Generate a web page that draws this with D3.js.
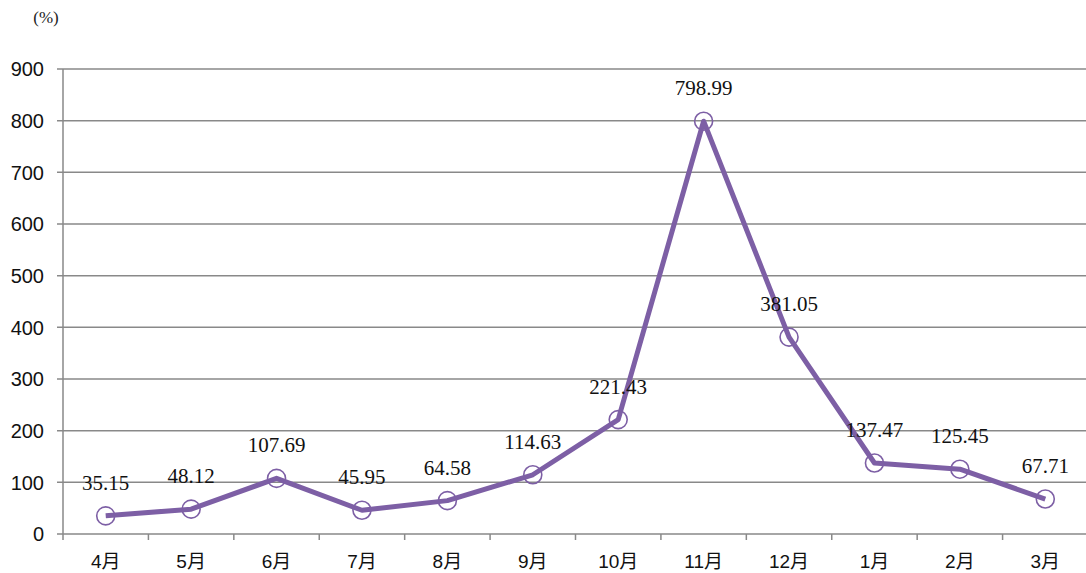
<!DOCTYPE html>
<html>
<head>
<meta charset="utf-8">
<script src="https://cdn.jsdelivr.net/npm/d3@7"></script>
<style>
  html, body { margin: 0; padding: 0; background: #fff; }
  svg { display: block; }
</style>
</head>
<body>
<svg id="chart" width="1086" height="573"></svg>
<script>
// Monthly ratio (%) by month
const months = ["4月", "5月", "6月", "7月", "8月", "9月", "10月", "11月", "12月", "1月", "2月", "3月"];
const values = [35.15, 48.12, 107.69, 45.95, 64.58, 114.63, 221.43, 798.99, 381.05, 137.47, 125.45, 67.71];
const yTicks = [0, 100, 200, 300, 400, 500, 600, 700, 800, 900];
const unitLabel = "(%)";

const svg = d3.select("#chart");
const margin = { left: 63, right: -2, top: 69, bottom: 39 };
const W = 1086, H = 573;

const x = d3.scaleBand().domain(months).range([margin.left, W - margin.right]);
const y = d3.scaleLinear().domain([0, 900]).range([H - margin.bottom, margin.top]);

const gridColor = "#898989";
const purple = "#7d5fa5";

// horizontal gridlines (with short left ticks)
svg.append("g").selectAll("line").data(yTicks).join("line")
  .attr("x1", margin.left - 6).attr("x2", W)
  .attr("y1", d => y(d)).attr("y2", d => y(d))
  .attr("stroke", gridColor).attr("stroke-width", 1.5);

// vertical axis line
svg.append("line")
  .attr("x1", margin.left).attr("x2", margin.left)
  .attr("y1", y(900)).attr("y2", y(0) + 6)
  .attr("stroke", gridColor).attr("stroke-width", 1.5);

// category separator ticks below the baseline
const bounds = months.slice(1).map(m => x(m));
svg.append("g").selectAll("line").data(bounds).join("line")
  .attr("x1", d => d).attr("x2", d => d)
  .attr("y1", y(0)).attr("y2", y(0) + 6)
  .attr("stroke", gridColor).attr("stroke-width", 1.5);

// y-axis tick labels
svg.append("g").selectAll("text").data(yTicks).join("text")
  .attr("x", 44).attr("y", d => y(d))
  .attr("dy", "0.36em")
  .attr("text-anchor", "end")
  .attr("font-family", "Liberation Sans, Arial, sans-serif")
  .attr("font-size", 20)
  .attr("fill", "#111")
  .text(d => d);

// unit label
svg.append("text")
  .attr("x", 46).attr("y", 23)
  .attr("text-anchor", "middle")
  .attr("font-family", "Liberation Serif, serif")
  .attr("font-size", 17)
  .attr("fill", "#222")
  .text(unitLabel);

// month labels
svg.append("g").selectAll("text").data(months).join("text")
  .attr("x", d => x(d) + x.bandwidth() / 2)
  .attr("y", 561).attr("dy", "0.36em")
  .attr("text-anchor", "middle")
  .attr("font-family", "Liberation Sans, 'Noto Sans CJK JP', sans-serif")
  .attr("font-size", 19)
  .attr("fill", "#111")
  .text(d => d);

const cx = (d, i) => x(months[i]) + x.bandwidth() / 2;

// series line
const line = d3.line().x((d, i) => cx(d, i)).y(d => y(d));
svg.append("path").datum(values)
  .attr("d", line)
  .attr("fill", "none")
  .attr("stroke", purple)
  .attr("stroke-width", 5)
  .attr("stroke-linejoin", "round");

// hollow circle markers
svg.append("g").selectAll("circle").data(values).join("circle")
  .attr("cx", (d, i) => cx(d, i)).attr("cy", d => y(d))
  .attr("r", 9)
  .attr("fill", "none")
  .attr("stroke", purple)
  .attr("stroke-width", 1.6);

// value labels
svg.append("g").selectAll("text").data(values).join("text")
  .attr("x", (d, i) => cx(d, i))
  .attr("y", d => y(d) - 26)
  .attr("text-anchor", "middle")
  .attr("font-family", "Liberation Serif, serif")
  .attr("font-size", 21)
  .attr("fill", "#111")
  .text(d => d.toFixed(2));
</script>
</body>
</html>
